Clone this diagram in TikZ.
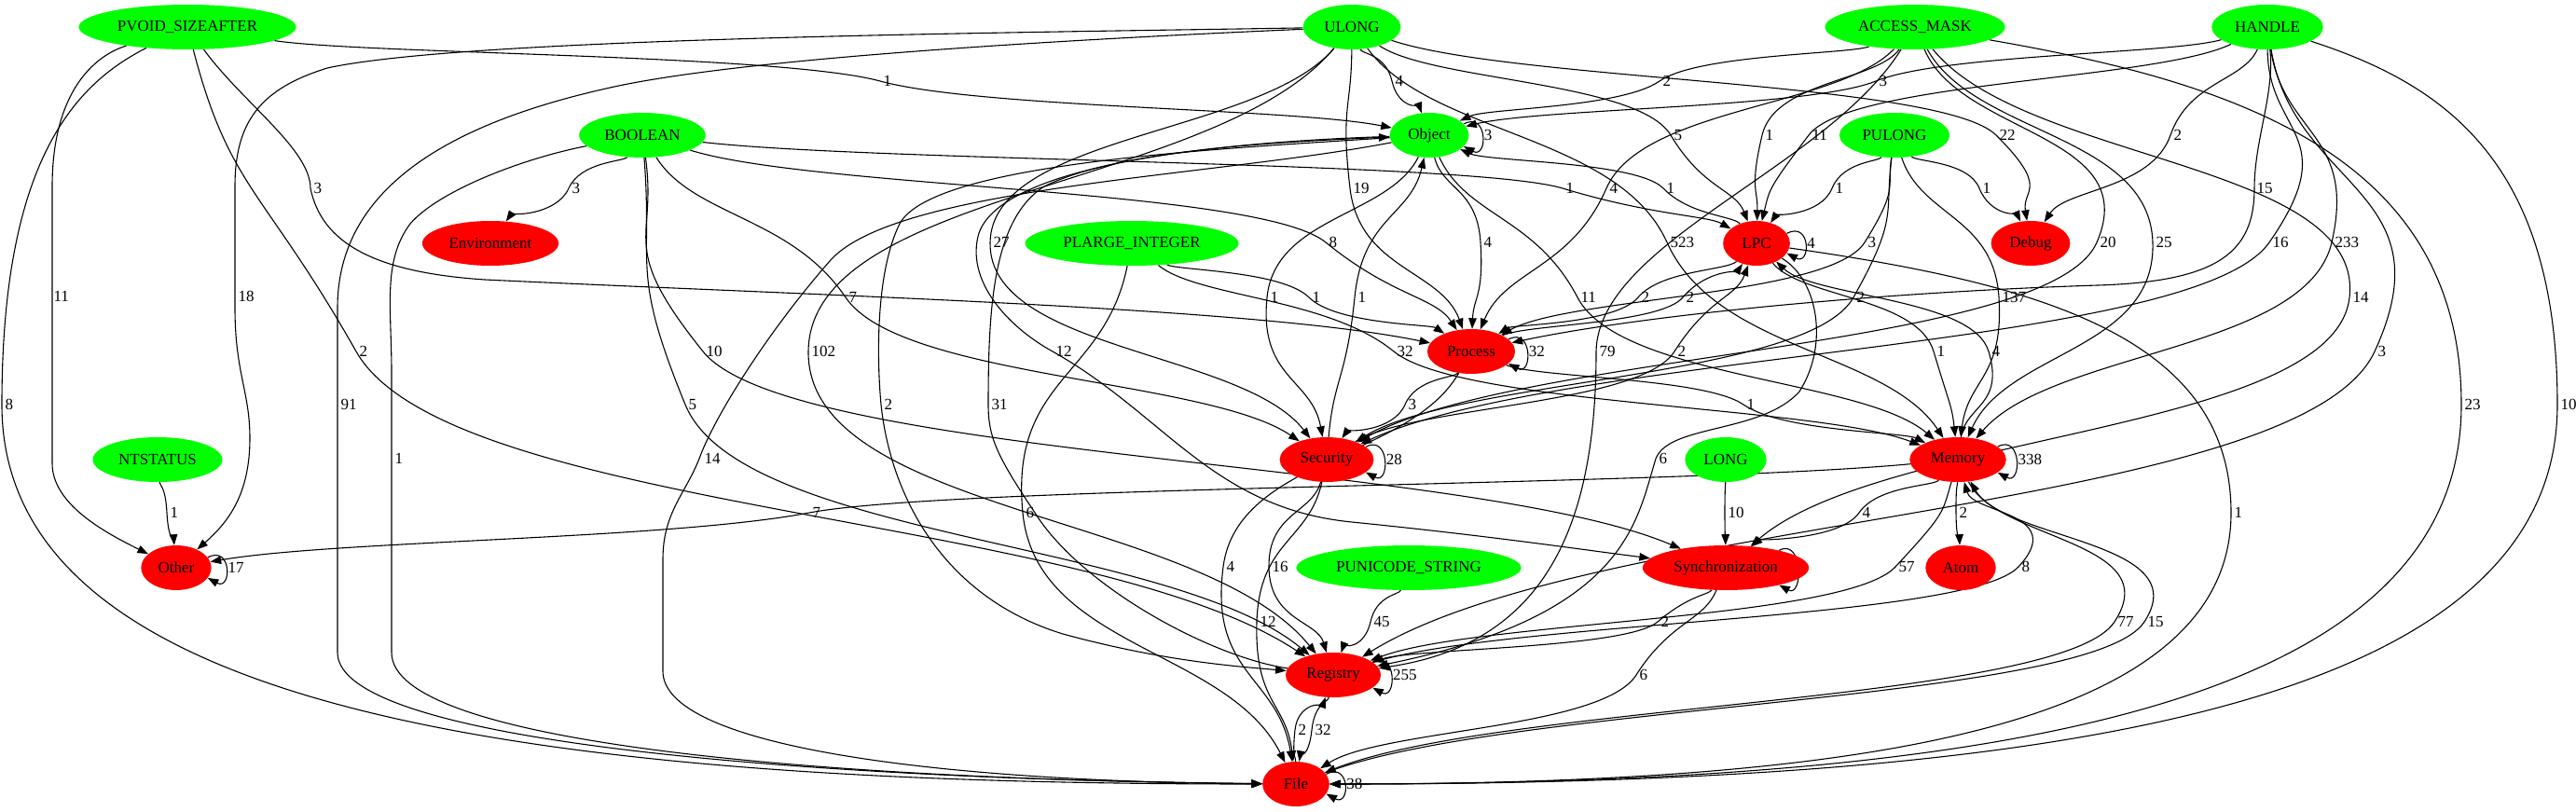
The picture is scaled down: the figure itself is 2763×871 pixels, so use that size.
\documentclass[tikz,border=0pt]{standalone}
\usepackage{fontspec}
\setmainfont{Liberation Serif}
\usepackage{tikz}
\usetikzlibrary{shapes.geometric,arrows.meta,calc,backgrounds}

\tikzset{
  gv/.style={ellipse, minimum width=59pt, minimum height=39.5pt,
    inner xsep=6pt, inner ysep=1pt, font=\fontsize{14}{16}\selectfont},
  argtype/.style={gv, fill=green},
  category/.style={gv, fill=red},
  flow/.style={-{Triangle[length=9.5pt,width=7pt]}, line width=0.9pt},
  cnt/.style={font=\fontsize{14}{16}\selectfont, inner sep=0pt, anchor=west, xshift=2.5pt}
}

\begin{document}
\begin{tikzpicture}[x=0.823pt, y=-0.823pt]
    \useasboundingbox (0,0) rectangle (2763,871);

    % argument types
    \node[argtype] (pvoid)  at (201,29)   {PVOID\_SIZEAFTER};
    \node[argtype] (ulong)  at (1450,29)  {ULONG};
    \node[argtype] (amask)  at (2054,29)  {ACCESS\_MASK};
    \node[argtype] (handle) at (2432,29)  {HANDLE};
    \node[argtype] (bool)   at (689,145)  {BOOLEAN};
    \node[argtype] (obj)    at (1533,145) {Object};
    \node[argtype] (pulong) at (2032,145) {PULONG};
    \node[argtype] (plarge) at (1214,261) {PLARGE\_INTEGER};
    \node[argtype] (ntst)   at (169,493)  {NTSTATUS};
    \node[argtype] (long)   at (1851,493) {LONG};
    \node[argtype] (puni)   at (1511,609) {PUNICODE\_STRING};

    % categories
    \node[category] (env)  at (526,261)  {Environment};
    \node[category] (lpc)  at (1884,261) {LPC};
    \node[category] (dbg)  at (2178,261) {Debug};
    \node[category] (proc) at (1578,377) {Process};
    \node[category] (sec)  at (1423,493) {Security};
    \node[category] (mem)  at (2100,493) {Memory};
    \node[category] (oth)  at (189,609)  {Other};
    \node[category] (sync) at (1851,609) {Synchronization};
    \node[category] (atom) at (2103,609) {Atom};
    \node[category] (reg)  at (1430,724) {Registry};
    \node[category] (file) at (1390,841) {File};

    \begin{scope}[on background layer]
    \fill[white] (0,0) rectangle (2763,871);

    % edges: source/target/count/crossing x/label y
    \foreach \src/\dst/\val/\ex/\ey in {
        pvoid/obj/1/944/87, pvoid/reg/2/382/377,
        ulong/obj/4/1493/87, ulong/lpc/5/1792/145, ulong/dbg/22/2141/145, ulong/proc/19/1448/202,
        ulong/sec/27/1062/260, ulong/mem/523/1788/260, ulong/reg/102/867/377,
        amask/obj/2/1780/87, amask/lpc/1/1890/145, amask/proc/4/1723/202, amask/sec/20/2249/260,
        amask/mem/25/2309/260, amask/sync/14/2520/319,
        handle/obj/3/2012/87, handle/lpc/11/1940/145, handle/dbg/2/2328/145,
        handle/sec/16/2434/260, handle/mem/233/2501/260, handle/reg/3/2547/377,
        bool/env/3/610/202, bool/lpc/1/1676/202, bool/proc/8/1422/260, bool/sec/7/907/319,
        bool/sync/10/754/377, bool/reg/5/735/434,
        pulong/lpc/1/1965/202, pulong/dbg/1/2123/202, pulong/proc/3/2000/260,
        pulong/sec/2/1988/319, pulong/mem/137/2144/319,
        obj/proc/4/1588/260, obj/sec/1/1359/319, obj/mem/11/1692/319,
        plarge/proc/1/1404/319, plarge/mem/32/1495/377, plarge/file/6/1097/550,
        ntst/oth/1/179/550, long/sync/10/1850/550, puni/reg/45/1470/667,
        lpc/obj/1/1784/202, lpc/proc/2/1757/319, lpc/mem/1/2074/377,
        proc/lpc/2/1805/319, proc/sec/3/1507/434, proc/mem/1/1870/434, proc/file/4/1312/608,
        sec/obj/1/1453/319, sec/lpc/2/1796/377, sec/reg/16/1361/608, sec/file/12/1348/667,
        mem/lpc/4/2133/377, mem/oth/7/868/550, mem/sync/4/1994/550, mem/atom/2/2098/550,
        mem/reg/57/2033/608, mem/file/77/2268/667,
        sync/reg/2/1778/667, sync/file/6/1755/724,
        reg/mem/8/2165/608, reg/file/32/1407/783,
        file/reg/2/1389/783, file/mem/15/2300/667}
        \draw[flow] let \p1=(\src), \p2=(\dst), \p3=(\ex,\ey) in
            (\src) .. controls ({(\x1)+0.25*((\x3)-(\x1))},{(\y1)+0.5*((\y3)-(\y1))})
                and ({(\x3)-0.08*((\x2)-(\x1))},{(\y3)-0.25*((\y2)-(\y1))}) .. (\p3)
            .. controls ({(\x3)+0.08*((\x2)-(\x1))},{(\y3)+0.25*((\y2)-(\y1))})
                and ({(\x2)+0.25*((\x3)-(\x2))},{(\y2)+0.5*((\y3)-(\y2))}) .. (\dst)
            node[cnt] at (\p3) {\val};

    % long ones that run down the sides into File
    \foreach \src/\val/\ex/\ey in {pvoid/8/2/434, lpc/1/2393/550, amask/23/2640/434, handle/10/2743/434}
        \draw[flow] let \p1=(\src), \p2=(file), \p3=(\ex,\ey) in
            (\src) .. controls ({(\x1)+0.6*((\x3)-(\x1))},{(\y1)+0.15*((\y3)-(\y1))})
                and (\x3,{(\y1)+0.35*((\y3)-(\y1))}) .. (\p3)
            .. controls (\x3,{(\y3)+0.8*((\y2)-(\y3))}) and ({(\x3)+0.4*((\x2)-(\x3))},\y2) .. (file)
            node[cnt] at (\p3) {\val};

    % routed by hand round other nodes
    \draw[flow] (ulong) .. controls (1200,40) and (800,60) .. (650,95)
        .. controls (450,140) and (362,220) .. (362,330) -- (362,700)
        .. controls (362,800) and (900,836) .. (file) node[cnt] at (362,434) {91};
    \draw[flow] (bool) .. controls (560,170) and (470,205) .. (440,240)
        .. controls (410,280) and (420,330) .. (420,400) -- (420,700)
        .. controls (420,800) and (900,836) .. (file) node[cnt] at (420,492) {1};
    \draw[flow] (pvoid) .. controls (260,110) and (333,160) .. (333,202)
        .. controls (345,260) and (400,292) .. (520,300)
        .. controls (900,318) and (1350,330) .. (proc) node[cnt] at (333,202) {3};
    \draw[flow] (pvoid) .. controls (100,60) and (56,100) .. (56,200) -- (56,497)
        .. controls (56,540) and (110,570) .. (oth) node[cnt] at (54,318) {11};
    \draw[flow] (ulong) .. controls (1100,35) and (500,40) .. (351,73)
        .. controls (280,95) and (252,130) .. (252,200) -- (252,330)
        .. controls (252,400) and (268,420) .. (268,470)
        .. controls (268,530) and (245,560) .. (oth) node[cnt] at (252,318) {18};
    \draw[flow] (handle) .. controls (2440,100) and (2418,150) .. (2418,202)
        .. controls (2418,270) and (2380,302) .. (2250,306)
        .. controls (2000,314) and (1750,340) .. (proc) node[cnt] at (2417,202) {15};
    \draw[flow] (amask) .. controls (1960,180) and (1714,260) .. (1712,377)
        .. controls (1712,560) and (1660,690) .. (reg) node[cnt] at (1712,377) {79};
    \draw[flow] (lpc) .. controls (1950,300) and (1962,370) .. (1930,420)
        .. controls (1890,465) and (1790,455) .. (1776,492)
        .. controls (1755,560) and (1745,660) .. (reg) node[cnt] at (1776,492) {6};
    \draw[flow] (obj) .. controls (1380,150) and (1080,165) .. (1050,250)
        .. controls (1035,300) and (1080,350) .. (1129,377)
        .. controls (1250,445) and (1300,545) .. (1450,560)
        .. controls (1600,575) and (1700,590) .. (sync) node[cnt] at (1129,377) {12};
    \draw[flow] (obj) .. controls (1300,160) and (1000,175) .. (965,240)
        .. controls (940,290) and (940,380) .. (945,434)
        .. controls (955,530) and (1010,640) .. (1140,680)
        .. controls (1250,710) and (1330,715) .. (reg) node[cnt] at (945,434) {2};
    \draw[flow] (reg) .. controls (1300,705) and (1160,630) .. (1110,550)
        .. controls (1070,490) and (1060,470) .. (1060,434)
        .. controls (1060,330) and (1065,235) .. (1120,200)
        .. controls (1200,160) and (1380,152) .. (obj) node[cnt] at (1060,434) {31};
    \draw[flow] (obj) .. controls (1300,190) and (960,200) .. (890,280)
        .. controls (820,360) and (765,450) .. (750,492)
        .. controls (735,530) and (711,550) .. (711,600) -- (711,720)
        .. controls (711,800) and (1000,838) .. (file) node[cnt] at (752,492) {14};

    % self loops
    \foreach \nd/\val in {obj/3, lpc/4, proc/32, sec/28, mem/338, oth/17, sync/9, reg/255, file/38}
        \draw[flow] (\nd.18) .. controls +(26,-14) and +(26,14) .. (\nd.-18)
            node[cnt, pos=0.5, xshift=-1pt] {\val};
    \end{scope}
\end{tikzpicture}
\end{document}
